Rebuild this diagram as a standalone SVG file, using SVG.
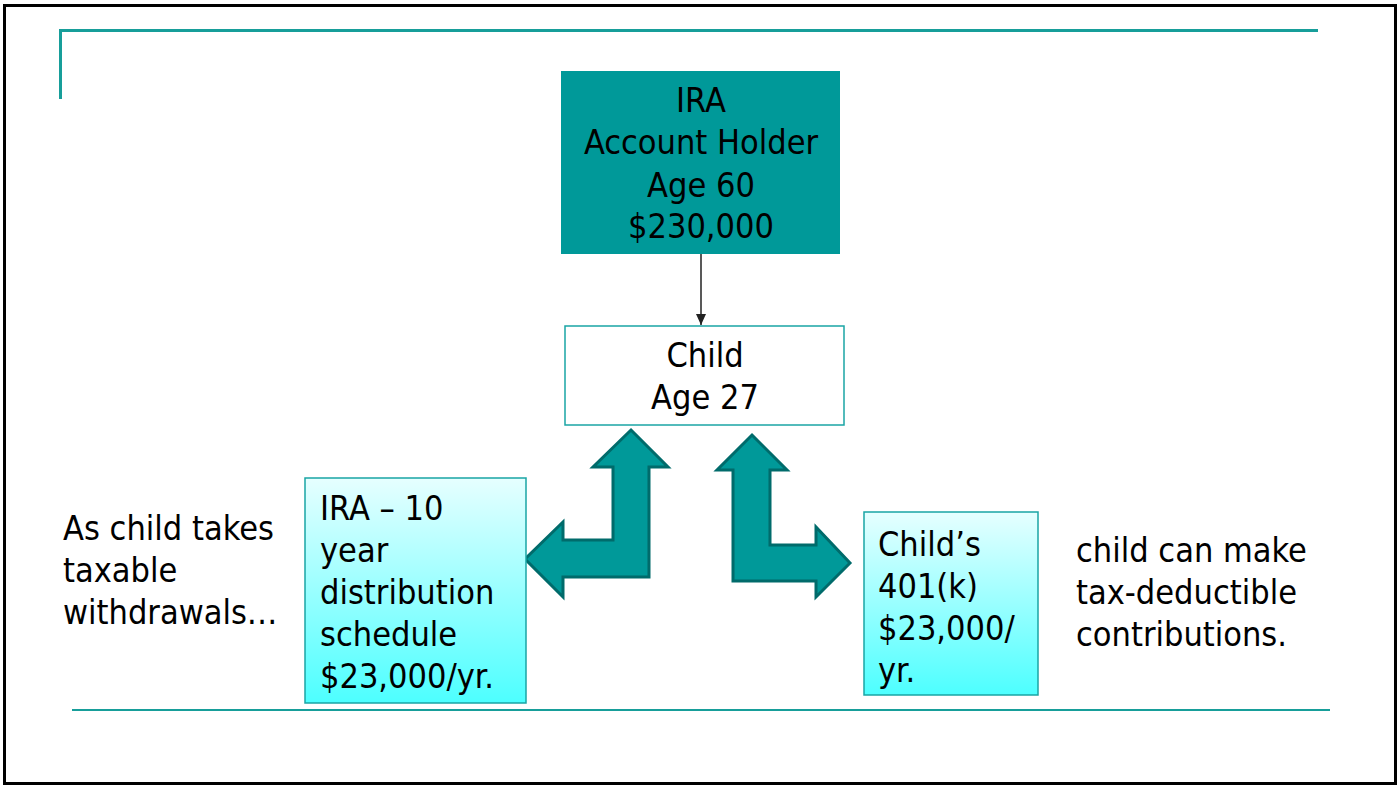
<svg xmlns="http://www.w3.org/2000/svg" width="1400" height="787" viewBox="0 0 1400 787">
<defs>
<linearGradient id="cy" x1="0" y1="0" x2="0" y2="1">
<stop offset="0" stop-color="#e6ffff"/>
<stop offset="1" stop-color="#4dffff"/>
</linearGradient>
<marker id="ah" markerWidth="14" markerHeight="14" refX="11" refY="5.5" orient="auto" markerUnits="userSpaceOnUse">
<path d="M0,0.5 L11,5.5 L0,10.5 z" fill="#222"/>
</marker>
</defs>
<style>
text{font-family:"DejaVu Sans Condensed","DejaVu Sans",sans-serif;font-size:34px;fill:#000}
.c{text-anchor:middle}
.arr{fill:#009999;stroke:#006b6b;stroke-width:3;stroke-linejoin:miter}
.box{stroke:#1aa5a5;stroke-width:1.5}
</style>
<rect x="0" y="0" width="1400" height="787" fill="#fff"/>
<rect x="4.5" y="5.5" width="1391" height="778" fill="none" stroke="#000" stroke-width="3"/>
<path d="M60.5,99 V30.5 H1318" fill="none" stroke="#179e9a" stroke-width="3"/>
<line x1="72" y1="710" x2="1330" y2="710" stroke="#179e9a" stroke-width="2"/>

<g id="connectors">
<line x1="701" y1="254" x2="701" y2="325" stroke="#222" stroke-width="1.5" marker-end="url(#ah)"/>
<polygon class="arr" points="631,430 668,467 649,467 649,577 563,577 563,597 525,559 563,522 563,540 613,540 613,467 593,467"/>
<polygon class="arr" points="752,435 787,470 770,470 770,545 816,545 816,527 850,563 816,597 816,581 733,581 733,470 717,470"/>
</g>

<g id="ira-holder">
<rect x="561" y="71" width="279" height="183" fill="#009999"/>
<text class="c" x="701" y="112">IRA</text>
<text class="c" x="701" y="154">Account Holder</text>
<text class="c" x="701" y="197">Age 60</text>
<text class="c" x="701" y="238">$230,000</text>
</g>

<g id="child">
<rect class="box" x="565" y="326" width="279" height="99" fill="#fff"/>
<text class="c" x="705" y="367">Child</text>
<text class="c" x="705" y="409">Age 27</text>
</g>

<g id="ira-schedule">
<rect class="box" x="305" y="478" width="221" height="225" fill="url(#cy)"/>
<text x="320" y="520">IRA – 10</text>
<text x="320" y="562">year</text>
<text x="320" y="604">distribution</text>
<text x="320" y="646">schedule</text>
<text x="320" y="688">$23,000/yr.</text>
</g>

<g id="child-401k">
<rect class="box" x="864" y="512" width="174" height="183" fill="url(#cy)"/>
<text x="878" y="556">Child’s</text>
<text x="878" y="598">401(k)</text>
<text x="878" y="640">$23,000/</text>
<text x="878" y="682">yr.</text>
</g>

<g id="left-note">
<text x="63" y="540">As child takes</text>
<text x="63" y="582">taxable</text>
<text x="63" y="624">withdrawals…</text>
</g>

<g id="right-note">
<text x="1076" y="562">child can make</text>
<text x="1076" y="604">tax-deductible</text>
<text x="1076" y="646">contributions.</text>
</g>
</svg>
